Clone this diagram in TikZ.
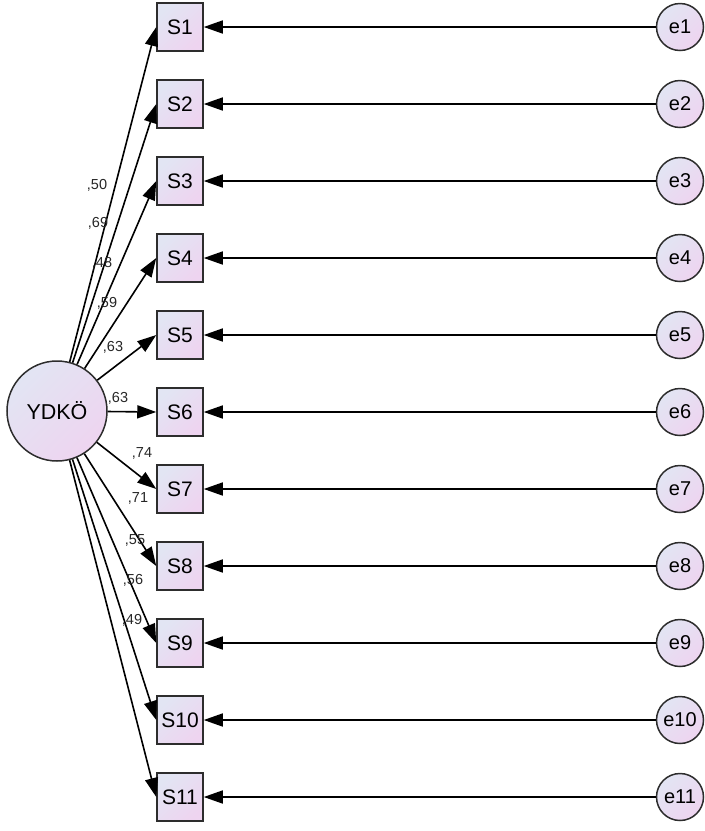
\documentclass[tikz,border=0pt]{standalone}
\usepackage{fontspec}
\setmainfont{Liberation Sans}
\usetikzlibrary{arrows.meta}
\definecolor{lavA}{RGB}{226,229,243}
\definecolor{lavB}{RGB}{238,212,240}
\definecolor{edgec}{RGB}{45,45,45}
\tikzset{
  fillgrad/.style={top color=lavA, bottom color=lavB, shading angle=45},
  obsbox/.style={draw=edgec, line width=1.5pt, fillgrad, minimum width=46pt, minimum height=48pt, inner sep=0pt, font=\fontsize{21}{24}\selectfont},
  errcirc/.style={circle, draw=edgec, line width=1.5pt, fillgrad, minimum size=47pt, inner sep=0pt, font=\fontsize{20}{24}\selectfont},
  latcirc/.style={circle, draw=edgec, line width=1.5pt, fillgrad, minimum size=100pt, inner sep=0pt, font=\fontsize{21.5}{24}\selectfont},
  path/.style={draw=black, line width=1.6pt, -{Triangle[length=19pt,width=13pt]}},
  coef/.style={font=\fontsize{14.5}{16}\selectfont, text=black!85, inner sep=0pt}
}
\begin{document}
\begin{tikzpicture}[x=1pt,y=1pt]
\useasboundingbox (0,0) rectangle (705,-831);
\node[latcirc] (Y) at (57,-411) {YDKÖ};
\foreach \i in {1,...,11}{
  \pgfmathsetmacro{\yy}{-27-77*(\i-1)}
  \node[obsbox] (S\i) at (180,\yy) {S\i};
  \node[errcirc] (e\i) at (680,\yy) {e\i};
  \draw[path] (e\i) -- (S\i);
  \draw[path] (Y) -- (S\i.west);
}
\node[coef] (c1) at (97,-185) {,50};
\node[coef] (c2) at (98,-223) {,69};
\node[coef] (c3) at (102,-263) {,48};
\node[coef] (c4) at (107,-303) {,59};
\node[coef] (c5) at (113,-347) {,63};
\node[coef] (c6) at (118,-398) {,63};
\node[coef] (c7) at (142,-453) {,74};
\node[coef] (c8) at (138,-498) {,71};
\node[coef] (c9) at (135,-540) {,55};
\node[coef] (c10) at (133,-580) {,56};
\node[coef] (c11) at (132,-620) {,49};
\end{tikzpicture}
\end{document}
